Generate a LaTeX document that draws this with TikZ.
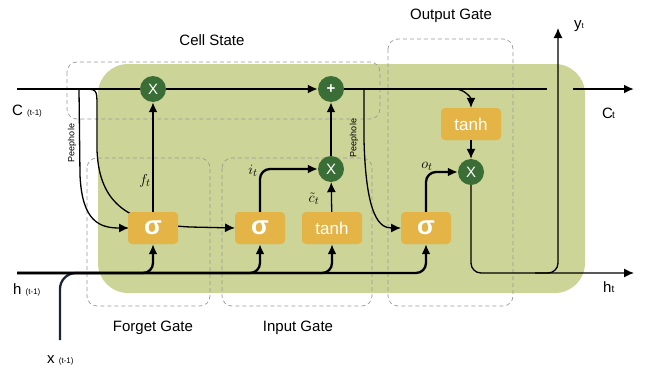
\documentclass[tikz,border=0pt]{standalone}
\usepackage{fontspec}
\setmainfont{Liberation Sans}
\usetikzlibrary{arrows.meta,positioning}

\definecolor{cellbg}{HTML}{CCD497}
\definecolor{gategold}{HTML}{E4B447}
\definecolor{opgreen}{HTML}{3B6E36}
\definecolor{regiongray}{HTML}{9A9A9A}
\definecolor{xnavy}{HTML}{1C2438}

\begin{document}
\begin{tikzpicture}[x=1pt,y=-1pt,
    gate/.style={rectangle,rounded corners=4pt,fill=gategold,text=white,minimum width=50pt,minimum height=32pt,inner sep=0pt},
    sig/.style={gate,font=\fontsize{26}{26}\selectfont\bfseries},
    th/.style={gate,minimum width=60pt,font=\fontsize{17}{17}\selectfont},
    op/.style={circle,fill=opgreen,text=white,minimum size=26pt,inner sep=0pt,font=\fontsize{15}{15}\selectfont},
    region/.style={draw=regiongray,dashed,dash pattern=on 4pt off 3pt,rounded corners=10pt,line width=0.7pt},
    main/.style={line width=2.3pt},
    thin/.style={line width=1.3pt},
    tip/.style={-{Latex[length=10pt,width=9pt]}},
    val/.style={font=\fontsize{15}{15}\selectfont},
    lbl/.style={font=\fontsize{15}{15}\selectfont},
    sub/.style={font=\fontsize{9}{9}\selectfont}]
    \useasboundingbox (0,0) rectangle (653,367);

    % background cell
    \fill[cellbg,rounded corners=30pt] (98,64) rectangle (585,293);

    % dashed regions
    \draw[region] (67,62) rectangle (380,119);
    \draw[region] (87,158) rectangle (210,306);
    \draw[region] (222,158) rectangle (372,306);
    \draw[region] (388,39) rectangle (513,306);

    % end points
    \coordinate (cin) at (17,89);
    \coordinate (cend) at (547,89);
    \coordinate (ctail) at (573,89);
    \coordinate (cout) at (634,89);
    \coordinate (hin) at (17,273);
    \coordinate (hout) at (634,273);
    \coordinate (xin) at (60,340);
    \coordinate (xjoin) at (100,273);
    \coordinate (yout) at (558,28);
    \coordinate (ybr) at (535,273);
    \coordinate (tap) at (438,89);
    \coordinate (peepa) at (79,89);
    \coordinate (peepb) at (81,89);
    \coordinate (peepc) at (364,89);

    % peephole links, behind the gates
    \draw[thin,tip] (peepa) -- (80,175) .. controls (82,222) and (100,228) .. (129,228);
    \draw[thin,tip] (peepb) .. controls (97,89) .. (97,106) -- (97,150) .. controls (99,205) and (130,224) .. (190,227) -- (235,228);
    \draw[thin,tip] (peepc) -- (364,140) .. controls (366,218) and (380,228) .. (401,228);
    \node[sub,rotate=90] (peeplbla) at (72,143) {Peephole};
    \node[sub,rotate=90] (peeplblb) at (354,138) {Peephole};

    % gates and operations
    \node[sig] (fsig) at (153,228) {σ};
    \node[sig] (isig) at (260,228) {σ};
    \node[th] (itanh) at (332,228) {tanh};
    \node[sig] (osig) at (426,228) {σ};
    \node[th] (otanh) at (471,124) {tanh};
    \node[op] (fx) at (153,89) {X};
    \node[op,font=\fontsize{15}{15}\selectfont\bfseries] (plus) at (331,89) {+};
    \node[op] (ix) at (331,169) {X};
    \node[op] (ox) at (471,172) {X};

    % cell state line
    \draw[main] (cin) -- (fx);
    \draw[main,tip] (fx) -- (plus);
    \draw[main] (plus) -- (cend);
    \draw[main,tip] (ctail) -- (cout);
    \draw[thin,tip] (tap) -- (455,89) to[out=0,in=90] (otanh.north);

    % input x and hidden state
    \draw[main,xnavy,rounded corners=16pt] (xin) |- (xjoin);
    \draw[main,tip,rounded corners=10pt] (hin) -| (fsig.south);
    \draw[main,tip,rounded corners=10pt] (hin) -| (isig.south);
    \draw[main,tip,rounded corners=10pt] (hin) -| (itanh.south);
    \draw[main,tip,rounded corners=10pt] (hin) -| (osig.south);

    % gate outputs
    \draw[main,tip] (fsig) -- (fx);
    \draw[main,tip,rounded corners=10pt] (isig.north) |- (ix.west);
    \draw[thin,tip] (itanh) -- (ix);
    \draw[main,tip] (ix) -- (plus);
    \draw[main,tip,rounded corners=10pt] (osig.north) |- (ox.west);
    \draw[thin,tip] (otanh) -- (ox);
    \draw[thin,tip,rounded corners=10pt] (ox.south) |- (hout);
    \draw[thin,tip,rounded corners=10pt] (ybr) -| (yout);

    % gate values
    \node[val] (flbl) at (145,181) {$f_t$};
    \node[val] (ilbl) at (253,171) {$i_t$};
    \node[val] (clbl) at (314,199) {$\tilde{c}_t$};
    \node[val] (olbl) at (427,166) {$o_t$};

    % titles
    \node[lbl] (celltitle) at (212,40) {Cell State};
    \node[lbl] (outtitle) at (451,16) {Output Gate};
    \node[lbl] (fgtitle) at (153,328) {Forget Gate};
    \node[lbl] (igtitle) at (298,328) {Input Gate};

    % inputs and outputs
    \node[lbl,anchor=base west,inner sep=0pt] (cprev) at (12,115) {C {\fontsize{8}{8}\selectfont (t-1)}};
    \node[lbl,anchor=base west,inner sep=0pt] (hprev) at (13,294) {h {\fontsize{8}{8}\selectfont (t-1)}};
    \node[lbl,anchor=base west,inner sep=0pt] (xprev) at (47,363) {x {\fontsize{8}{8}\selectfont (t-1)}};
    \node[lbl,anchor=base west,inner sep=0pt] (cnext) at (602,118) {C\kern-1pt{\fontsize{10}{10}\selectfont t}};
    \node[lbl,anchor=base west,inner sep=0pt] (hnext) at (603,292) {h{\fontsize{10}{10}\selectfont t}};
    \node[lbl,anchor=base west,inner sep=0pt] (ynext) at (574,28) {y{\fontsize{8}{8}\selectfont t}};
\end{tikzpicture}
\end{document}
